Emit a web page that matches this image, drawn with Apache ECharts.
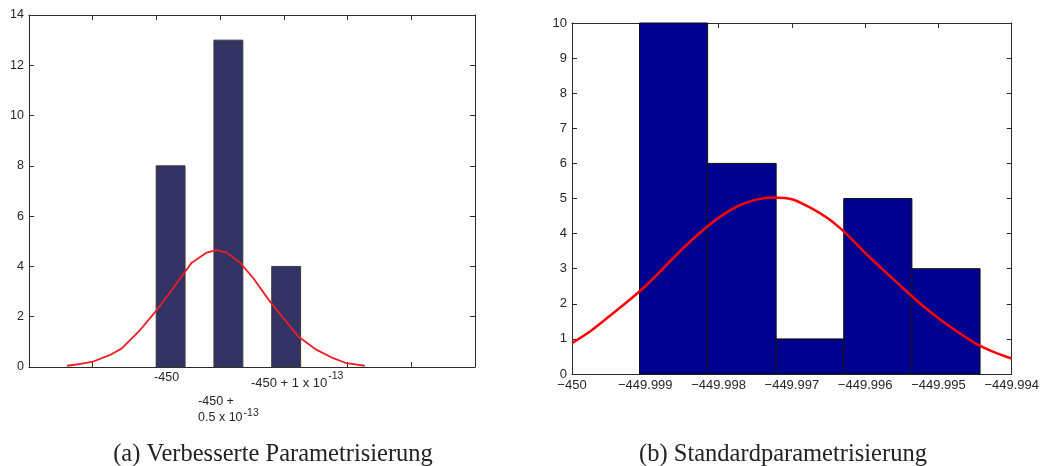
<!DOCTYPE html>
<html>
<head>
<meta charset="utf-8">
<script src="https://cdn.jsdelivr.net/npm/echarts@6/dist/echarts.min.js"></script>
<style>
  html, body { margin: 0; padding: 0; background: #fff; }
  #chart { width: 1042px; height: 466px; }
</style>
</head>
<body>
<div id="chart"></div>
<script>
// (a) improved parametrisation: values as offsets from -450, in units of 1e-13
const binCentersA = [0, 0.5, 1];
const countsA = [8, 13, 4];
const binWidthA = 0.25;
const tickLabelsA = ['-450', '-450 +\n0.5 x 10^-13', '-450 + 1 x 10^-13'];
const upperLabelIdxA = [0, 2];   // labels on the first row
const lowerLabelIdxA = [1];      // label on the second row
const fitXA = [-0.897, -0.782, -0.681, -0.523, -0.422, -0.264, -0.119, 0.010, 0.125, 0.183,
               0.313, 0.399, 0.486, 0.601, 0.716, 0.860, 0.990, 1.105, 1.264, 1.407, 1.523, 1.681];
const fitYA = [0.05, 0.12, 0.20, 0.48, 0.74, 1.47, 2.27, 3.06, 3.79, 4.15,
               4.55, 4.65, 4.55, 4.15, 3.53, 2.60, 1.87, 1.21, 0.68, 0.35, 0.15, 0.05];

// (b) standard parametrisation: histogram bin edges and counts
const binEdgesB = [-449.999079, -449.998149, -449.997214, -449.996292, -449.995362, -449.994432];
const countsB = [10, 6, 1, 5, 3];
const fitXB = [-450.0, -449.99975, -449.9995, -449.99925, -449.999, -449.99875, -449.9985,
               -449.99825, -449.998, -449.99775, -449.9975, -449.99725, -449.997, -449.99675,
               -449.9965, -449.99625, -449.996, -449.99575, -449.9955, -449.99525, -449.995,
               -449.99475, -449.9945, -449.99425, -449.994];
const fitYB = [0.88, 1.22, 1.63, 2.05, 2.50, 3.02, 3.55,
               4.03, 4.45, 4.77, 4.96, 5.03, 4.98, 4.74,
               4.42, 3.98, 3.45, 2.96, 2.48, 2.01, 1.59,
               1.22, 0.88, 0.63, 0.44];

// x axis of (a): seven equal tick intervals
const axisA = { min: -1.2256, step: 0.5514, count: 7 };

const captions = ['(a) Verbesserte Parametrisierung', '(b) Standardparametrisierung'];

const labelFont = 'Liberation Sans, Arial, Helvetica, sans-serif';
const captionFont = 'Liberation Serif, Times New Roman, serif';
const textColor = '#262626';
const frameColor = '#2b2b2b';

// text style per label of (a); the first and last are nudged like the original layout
const labelStyleA = ['p', 't', 'q'];

function richLabel(str, base) {
  // "10^-13" is drawn with a raised exponent
  return str.split('\n').map(function (line) {
    const m = line.match(/^(.*)\^(.*)$/);
    if (m) return '{' + base + '|' + m[1] + '}{s|' + m[2] + '}';
    return '{' + base + '|' + line + '}';
  }).join('\n');
}

const baseText = { fontFamily: labelFont, fontSize: 12.5, color: textColor, lineHeight: 13, align: 'left' };
const richStyles = {
  t: baseText,
  p: Object.assign({}, baseText, { padding: [0, 8, 0, 0] }),
  q: Object.assign({}, baseText, { padding: [4, 0, 0, 22], fontSize: 13 }),
  s: { fontFamily: labelFont, fontSize: 10.5, color: textColor, verticalAlign: 'top', padding: [0, 0, 9, 1] }
};

const histA = binCentersA.map(function (c, i) { return [c, countsA[i]]; });
const histB = countsB.map(function (n, i) { return [binEdgesB[i], binEdgesB[i + 1], n]; });

function tickAxisCommon(extra) {
  return Object.assign({
    axisLine: { show: true, onZero: false, lineStyle: { color: frameColor, width: 1 } },
    axisTick: { show: true, inside: true, length: 5, lineStyle: { color: frameColor, width: 1 } },
    splitLine: { show: false }
  }, extra);
}

const aMax = axisA.min + axisA.step * axisA.count;

function labelAxisA(indices, offset, margin) {
  const vals = indices.map(function (i) { return binCentersA[i]; });
  return {
    type: 'value', gridIndex: 0, position: 'bottom', offset: offset,
    min: axisA.min, max: aMax, interval: axisA.step,
    axisLine: { show: false, onZero: false },
    axisTick: { show: false },
    splitLine: { show: false },
    axisLabel: {
      show: true, customValues: vals, hideOverlap: false,
      showMinLabel: true, showMaxLabel: true,
      margin: margin, color: textColor, fontFamily: labelFont, fontSize: 12.5,
      formatter: function (v) {
        const i = binCentersA.indexOf(v);
        return i < 0 ? '' : richLabel(tickLabelsA[i], labelStyleA[i]);
      },
      rich: richStyles
    }
  };
}

const chart = echarts.init(document.getElementById('chart'), null, { renderer: 'canvas' });

const captionStyle = { fontFamily: captionFont, fontWeight: 'normal', fontSize: 24.5, color: '#222' };

chart.setOption({
  animation: false,
  backgroundColor: '#ffffff',
  title: [
    { text: captions[0], left: 268, top: 437, textAlign: 'center', textStyle: captionStyle },
    { text: captions[1], left: 778, top: 437, textAlign: 'center', textStyle: captionStyle }
  ],
  grid: [
    { left: 29, right: 567, top: 15, bottom: 99, show: false },
    { left: 572, right: 25, top: 23, bottom: 92, show: false }
  ],
  xAxis: [
    tickAxisCommon({
      type: 'value', gridIndex: 0, position: 'bottom',
      min: axisA.min, max: aMax, interval: axisA.step,
      axisLabel: { show: false }
    }),
    tickAxisCommon({
      type: 'value', gridIndex: 0, position: 'top',
      min: axisA.min, max: aMax, interval: axisA.step,
      axisLabel: { show: false }
    }),
    tickAxisCommon({
      type: 'value', gridIndex: 1, position: 'bottom',
      min: -450, max: -449.994, interval: 0.001,
      axisLabel: {
        margin: 5, color: textColor, fontFamily: labelFont, fontSize: 13,
        formatter: function (v) {
          return String(parseFloat(v.toFixed(3))).replace('-', '\u2212');
        }
      }
    }),
    tickAxisCommon({
      type: 'value', gridIndex: 1, position: 'top',
      min: -450, max: -449.994, interval: 0.001,
      axisLabel: { show: false }
    }),
    labelAxisA(upperLabelIdxA, 0, 4),
    labelAxisA(lowerLabelIdxA, 24, 4)
  ],
  yAxis: [
    tickAxisCommon({
      type: 'value', gridIndex: 0, position: 'left', min: 0, max: 14, interval: 2,
      axisLabel: { margin: 5, color: textColor, fontFamily: labelFont, fontSize: 12.5 }
    }),
    tickAxisCommon({
      type: 'value', gridIndex: 0, position: 'right', min: 0, max: 14, interval: 2,
      axisLabel: { show: false }
    }),
    tickAxisCommon({
      type: 'value', gridIndex: 1, position: 'left', min: 0, max: 10, interval: 1,
      axisLabel: { margin: 5, color: textColor, fontFamily: labelFont, fontSize: 13 }
    }),
    tickAxisCommon({
      type: 'value', gridIndex: 1, position: 'right', min: 0, max: 10, interval: 1,
      axisLabel: { show: false }
    })
  ],
  series: [
    {
      type: 'custom', xAxisIndex: 0, yAxisIndex: 0,
      data: histA,
      renderItem: function (params, api) {
        const c = api.value(0), n = api.value(1);
        const p0 = api.coord([c - binWidthA / 2, n]);
        const p1 = api.coord([c + binWidthA / 2, 0]);
        return {
          type: 'rect',
          shape: { x: p0[0], y: p0[1], width: p1[0] - p0[0], height: p1[1] - p0[1] },
          style: { fill: '#323264', stroke: '#3a3a3a', lineWidth: 1 }
        };
      }
    },
    {
      type: 'line', xAxisIndex: 0, yAxisIndex: 0,
      data: fitXA.map(function (x, i) { return [x, fitYA[i]]; }),
      showSymbol: false, smooth: false,
      lineStyle: { color: '#f01e23', width: 1.8 },
      z: 5
    },
    {
      type: 'custom', xAxisIndex: 2, yAxisIndex: 2,
      data: histB,
      renderItem: function (params, api) {
        const p0 = api.coord([api.value(0), api.value(2)]);
        const p1 = api.coord([api.value(1), 0]);
        return {
          type: 'rect',
          shape: { x: p0[0], y: p0[1], width: p1[0] - p0[0], height: p1[1] - p0[1] },
          style: { fill: '#00008f', stroke: '#111111', lineWidth: 1 }
        };
      }
    },
    {
      type: 'line', xAxisIndex: 2, yAxisIndex: 2,
      data: fitXB.map(function (x, i) { return [x, fitYB[i]]; }),
      showSymbol: false, smooth: 0.3,
      lineStyle: { color: '#ff0000', width: 2.5 },
      z: 5
    }
  ]
});
</script>
</body>
</html>
